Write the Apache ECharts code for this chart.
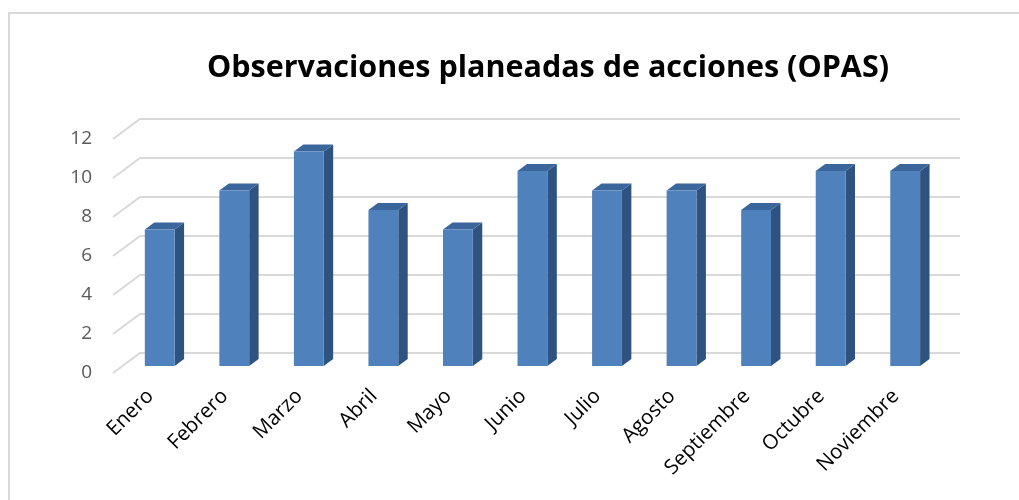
<!DOCTYPE html>
<html>
<head>
<meta charset="utf-8">
<script src="https://cdn.jsdelivr.net/npm/echarts@6/dist/echarts.min.js"></script>
<style>html,body{margin:0;padding:0;background:#fff}#c{width:1019px;height:500px}</style>
</head>
<body>
<div id="c"></div>
<script>
const categories = ['Enero','Febrero','Marzo','Abril','Mayo','Junio','Julio','Agosto','Septiembre','Octubre','Noviembre'];
const values = [7, 9, 11, 8, 7, 10, 9, 9, 8, 10, 10];
const yTicks = [0, 2, 4, 6, 8, 10, 12];
const titleText = 'Observaciones planeadas de acciones (OPAS)';

const DEPTH = [27, -20];       // full floor depth vector (front -> back wall)
const BAR_FRONT = 0.35, BAR_BACK = 0.7;
const FONT = '"Open Sans", Lato, sans-serif';

const chart = echarts.init(document.getElementById('c'));
chart.setOption({
  animation: false,
  backgroundColor: '#fff',
  title: {
    text: titleText, left: 543, textAlign: 'center', top: 48,
    textStyle: { fontFamily: FONT, fontWeight: 'bold', fontSize: 30.5, color: '#000' }
  },
  graphic: [{
    type: 'rect', shape: { x: 9, y: 13, width: 1100, height: 600 },
    style: { fill: 'none', stroke: '#d9d9d9', lineWidth: 2 }, silent: true
  }],
  grid: { left: 113, width: 820, top: 139, height: 234 },
  xAxis: {
    type: 'category', data: categories,
    axisLine: { show: false }, axisTick: { show: false },
    axisLabel: { rotate: 45, margin: 20, fontFamily: FONT, fontSize: 20.5, color: '#000', interval: 0 }
  },
  yAxis: {
    type: 'value', min: 0, max: 12, interval: 2,
    axisLine: { show: false }, axisTick: { show: false }, splitLine: { show: false },
    axisLabel: { margin: 21, fontFamily: FONT, fontSize: 19, color: '#595959' }
  },
  series: [{
    type: 'custom', silent: true, z: 1,
    data: yTicks.map(v => [0, v]),
    encode: { x: 0, y: 1 },
    renderItem: function (params, api) {
      const cs = params.coordSys;
      const y = api.coord([0, api.value(1)])[1];
      const x0 = cs.x;
      const bx = x0 + DEPTH[0], by = y + DEPTH[1];
      return {
        type: 'polyline',
        shape: { points: [[x0, y], [bx, by], [bx + cs.width, by]] },
        style: { stroke: '#d9d9d9', lineWidth: 2, fill: 'none' }
      };
    }
  }, {
    type: 'custom', silent: true, z: 2,
    data: values.map((v, i) => [i, v]),
    encode: { x: 0, y: 1 },
    renderItem: function (params, api) {
      const top = api.coord([api.value(0), api.value(1)]);
      const base = api.coord([api.value(0), 0]);
      const w = api.size([1, 0])[0] * 0.4;
      const fx = DEPTH[0] * BAR_FRONT, fy = DEPTH[1] * BAR_FRONT;
      const dx = DEPTH[0] * (BAR_BACK - BAR_FRONT), dy = DEPTH[1] * (BAR_BACK - BAR_FRONT);
      const xl = top[0] - w / 2 + fx, xr = top[0] + w / 2 + fx;
      const yt = top[1] + fy, yb = base[1] + fy;
      return {
        type: 'group',
        children: [
          { type: 'polygon', shape: { points: [[xr, yt], [xr + dx, yt + dy], [xr + dx, yb + dy], [xr, yb]] },
            style: { fill: '#2F5381' } },
          { type: 'polygon', shape: { points: [[xl, yt], [xr, yt], [xr + dx, yt + dy], [xl + dx, yt + dy]] },
            style: { fill: '#3B669C' } },
          { type: 'rect', shape: { x: xl, y: yt, width: xr - xl, height: yb - yt },
            style: { fill: '#4F81BD' } }
        ]
      };
    }
  }]
});
</script>
</body>
</html>
